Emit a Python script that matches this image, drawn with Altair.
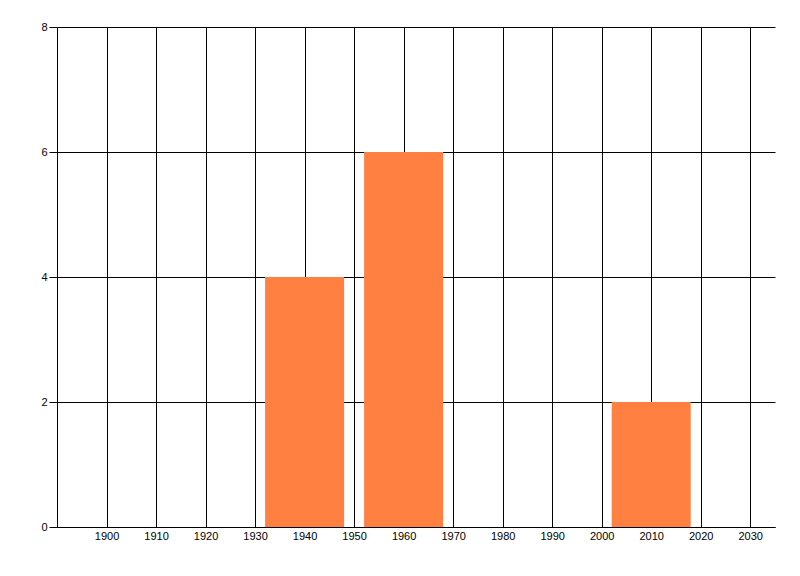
import altair as alt
import pandas as pd

years = [1940, 1960, 2010]
counts = [4, 6, 2]
x_ticks = list(range(1900, 2031, 10))
y_ticks = [0, 2, 4, 6, 8]

df = pd.DataFrame({"year": years, "count": counts})

FONT = "Liberation Sans"

chart = alt.Chart(df).mark_bar(color="#FF8040", size=79).encode(
    x=alt.X(
        "year:Q",
        scale=alt.Scale(domain=[1890, 2035], nice=False, zero=False, padding=0),
        axis=alt.Axis(
            values=x_ticks, format="d", title=None, ticks=False,
            grid=True, gridColor="black", gridOpacity=1, gridWidth=1,
            domainColor="black", domainWidth=1,
            labelPadding=3, labelFont=FONT, labelFontSize=11,
            labelColor="black", labelFlush=False, labelOverlap=False,
        ),
    ),
    y=alt.Y(
        "count:Q",
        scale=alt.Scale(domain=[0, 8], nice=False, padding=0),
        axis=alt.Axis(
            values=y_ticks, title=None, tickSize=8, tickColor="black",
            grid=True, gridColor="black", gridOpacity=1, gridWidth=1,
            domainColor="black", domainWidth=1,
            labelPadding=2, labelFont=FONT, labelFontSize=11,
            labelColor="black", labelFlush=False,
        ),
    ),
).properties(
    width=718,
    height=500,
    padding={"left": 49, "top": 19, "right": 10, "bottom": 35},
    autosize="none",
).configure_view(strokeOpacity=0)

chart.save("out.html", embed_options={"renderer": "svg", "actions": False})
